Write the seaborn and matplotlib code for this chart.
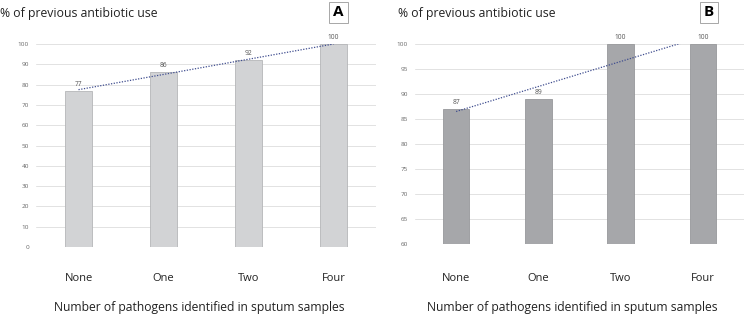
import numpy as np
import matplotlib
matplotlib.use("Agg")
import matplotlib.pyplot as plt
import seaborn as sns
from pandas import DataFrame

categories = ["None", "One", "Two", "Four"]
values_a = [77, 86, 92, 100]
values_b = [87, 89, 100, 100]
yticks_a = list(range(0, 101, 10))
yticks_b = list(range(60, 101, 5))
ylabel_text = "% of previous antibiotic use"
xlabel_text = "Number of pathogens identified in sputum samples"

sns.set_style("white")
plt.rcParams['font.family'] = ['Open Sans', 'DejaVu Sans']

fig = plt.figure(figsize=(7.52, 3.17), dpi=100)
ax_a = fig.add_axes([36 / 752, 1 - 247 / 317, 340 / 752, 203 / 317])
ax_b = fig.add_axes([415 / 752, 1 - 244 / 317, 329 / 752, 200 / 317])

panels = [
    (ax_a, values_a, yticks_a, "#d2d3d5", "#b5b6b8", "A", 0.0, 338.5, 19, 199),
    (ax_b, values_b, yticks_b, "#a6a7aa", "#97989b", "B", 398 / 752, 709, 21, 572),
]

for ax, vals, yticks, color, edge, letter, title_x, box_x, xpad, xlab_x in panels:
    df = DataFrame({"cat": categories, "val": vals})
    sns.barplot(data=df, x="cat", y="val", color=color, width=0.32,
                edgecolor=edge, linewidth=0.6, saturation=1, ax=ax, zorder=2)
    # linear trend line like the spreadsheet original
    sns.regplot(x=np.arange(len(vals)), y=np.array(vals, dtype=float), ax=ax,
                scatter=False, ci=None, truncate=True,
                line_kws=dict(color="#3f4d8f", linestyle=(0, (1, 1.2)),
                              linewidth=0.9, zorder=3))
    for i, v in enumerate(vals):
        ax.text(i, v + (yticks[-1] - yticks[0]) * 0.015, str(v), ha="center",
                va="bottom", fontsize=4.8, color="#555555")
    ax.set_ylim(yticks[0], yticks[-1])
    ax.set_xlim(-0.5, len(categories) - 0.5)
    ax.set_yticks(yticks)
    ax.set_yticklabels([str(t) for t in yticks], fontsize=4.6, color="#666666")
    ax.yaxis.grid(True, color="#e2e2e2", linewidth=0.7, zorder=0)
    ax.set_axisbelow(True)
    ax.tick_params(axis="y", length=0, pad=5)
    ax.tick_params(axis="x", length=0, pad=xpad, labelsize=8, labelcolor="#222222")
    ax.set_xlabel("")
    ax.set_ylabel("")
    sns.despine(ax=ax, left=True, bottom=True, top=True, right=True)
    fig.text(xlab_x / 752, 1 - 308 / 317, xlabel_text, fontsize=8.7,
             color="#222222", ha="center", va="center")
    fig.text(title_x, 1 - 14 / 317, ylabel_text, fontsize=8.8,
             color="#222222", va="center", ha="left")
    fig.text(box_x / 752, 1 - 12.5 / 317, letter, fontsize=11, fontweight="bold",
             ha="center", va="center", color="black",
             bbox=dict(boxstyle="square,pad=0.25", facecolor="white",
                       edgecolor="#999999", linewidth=0.6))

fig.savefig("out.png", dpi=100)
